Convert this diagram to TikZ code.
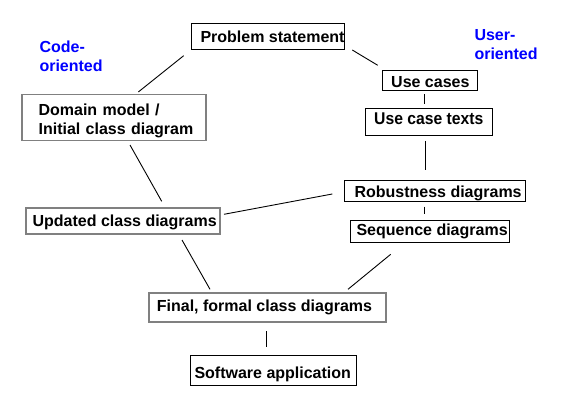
\documentclass[tikz,border=0pt]{standalone}
\usepackage{fontspec}
\setmainfont{Liberation Sans}
\usepackage{graphicx}
\definecolor{bordergray}{RGB}{128,128,128}
\newcommand\padtext[3]{\makebox[#1][l]{\hspace*{#2}#3}}
\begin{document}
\begin{tikzpicture}[x=1pt,y=-1pt,
  font=\fontsize{16}{19}\selectfont\bfseries,
  box/.style={draw=black, line width=1pt, inner sep=0pt, anchor=north west, text height=11.5pt, text depth=0pt},
  gbox/.style={box, draw=bordergray, line width=1.8pt},
  link/.style={draw=black, line width=0.9pt},
  tag/.style={text=blue, text width=90pt, align=left, inner sep=0pt, anchor=north west, text height=11.5pt, font=\fontsize{16}{19}\selectfont\bfseries}]
\useasboundingbox (0,0) rectangle (565,409);

% boxes
\node[box, minimum width=153pt, minimum height=26.6pt] (ps) at (191.3,22.7) {\padtext{153pt}{8.7pt}{Problem statement}};
\node[box, minimum width=95pt, minimum height=20.6pt, text height=14.5pt] (uc) at (382.3,69.7) {\padtext{95pt}{8.4pt}{Use cases}};
\node[box, minimum width=127pt, minimum height=26.7pt, text depth=6.8pt] (uct) at (365.3,108.3) {\padtext{127pt}{8.4pt}{\fontsize{17}{19}\selectfont\scalebox{0.925}[1]{Use case texts}}};
\node[box, minimum width=181pt, minimum height=21pt] (rb) at (344.3,180.3) {\padtext{181pt}{9.7pt}{Robustness diagrams}};
\node[box, minimum width=158.4pt, minimum height=22.3pt, text depth=3.8pt] (sq) at (350.3,220) {\padtext{158.4pt}{5.7pt}{Sequence diagrams}};
\node[gbox, text width=184pt, align=left, text height=14.5pt, text depth=19pt, minimum height=46pt] (dm) at (21,93.7) {\hspace*{16.7pt}Domain model /\\\hspace*{16.7pt}Initial class diagram};
\node[gbox, minimum width=194.6pt, minimum height=26.6pt] (up) at (24.7,206.7) {\padtext{194.6pt}{7pt}{Updated class diagrams}};
\node[gbox, minimum width=237.6pt, minimum height=29.3pt, text depth=4pt] (fi) at (147.7,291.7) {\padtext{237.6pt}{8.3pt}{Final, formal class diagrams}};
\node[box, minimum width=166pt, minimum height=30pt, text height=16.1pt] (sw) at (190.3,355) {\padtext{166pt}{3.7pt}{Software application}};

% side labels
\node[tag] (code) at (39.3,40.8) {Code-\\oriented};
\node[tag] (user) at (474.3,29.2) {User-\\oriented};

% connector end points (lines stop short of the boxes)
\coordinate (ps-dm-a) at (183.7,55.7);  \coordinate (ps-dm-b) at (138.3,92);
\coordinate (ps-uc-a) at (352.3,50);    \coordinate (ps-uc-b) at (377.7,65.3);
\coordinate (uc-uct-a) at (424.3,94.3); \coordinate (uc-uct-b) at (424.3,104.3);
\coordinate (uct-rb-a) at (425.3,141);  \coordinate (uct-rb-b) at (425.3,170.3);
\coordinate (rb-sq-a) at (424.3,206.7); \coordinate (rb-sq-b) at (424.3,214);
\coordinate (dm-up-a) at (130,145);     \coordinate (dm-up-b) at (161.7,201.3);
\coordinate (up-rb-a) at (224,214.3);   \coordinate (up-rb-b) at (332.3,194);
\coordinate (up-fi-a) at (182,240);     \coordinate (up-fi-b) at (210,289.3);
\coordinate (sq-fi-a) at (390.7,254.3); \coordinate (sq-fi-b) at (348,289.3);
\coordinate (fi-sw-a) at (266.3,331);   \coordinate (fi-sw-b) at (266.3,347.3);

\draw[link] (ps-dm-a) -- (ps-dm-b);
\draw[link] (ps-uc-a) -- (ps-uc-b);
\draw[link] (uc-uct-a) -- (uc-uct-b);
\draw[link] (uct-rb-a) -- (uct-rb-b);
\draw[link] (rb-sq-a) -- (rb-sq-b);
\draw[link] (dm-up-a) -- (dm-up-b);
\draw[link] (up-rb-a) -- (up-rb-b);
\draw[link] (up-fi-a) -- (up-fi-b);
\draw[link] (sq-fi-a) -- (sq-fi-b);
\draw[link] (fi-sw-a) -- (fi-sw-b);
\end{tikzpicture}
\end{document}
